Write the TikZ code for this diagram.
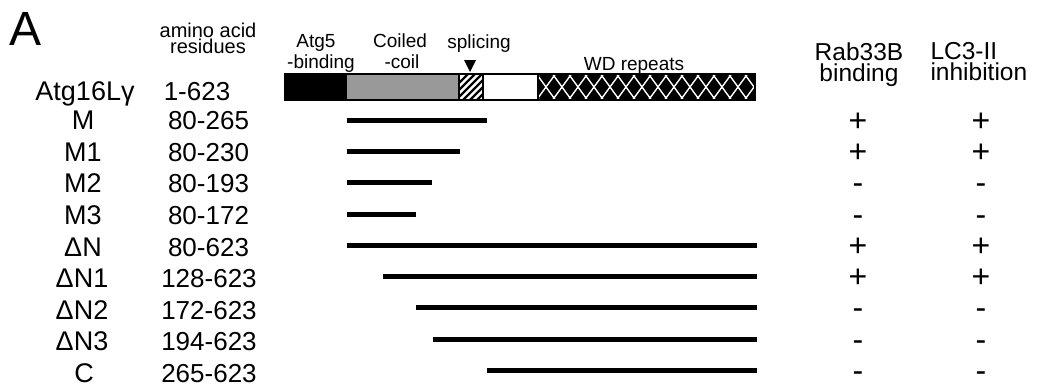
\documentclass[tikz,border=0pt]{standalone}
\usepackage{fontspec}
\setmainfont{Liberation Sans}
\begin{document}
\begin{tikzpicture}[x=1pt,y=-1pt]
\tikzset{lbl/.style={font=\fontsize{27}{27}\selectfont, anchor=base, inner sep=0},
 rsd/.style={font=\fontsize{26}{26}\selectfont, anchor=base, inner sep=0},
 sgn/.style={font=\fontsize{32}{32}\selectfont, anchor=base, inner sep=0},
 hdr/.style={font=\fontsize{24.5}{21}\selectfont, inner sep=0},
 sub/.style={font=\fontsize{20}{16.5}\selectfont, inner sep=0},
 dom/.style={font=\fontsize{19}{19}\selectfont, anchor=base, inner sep=0},
 flat/.style={text depth=0pt},
 cons/.style={line width=5pt}}

\useasboundingbox (0,0) rectangle (1037,386);

% Panel letter and column heads
\node[font=\fontsize{48}{48}\selectfont, anchor=base west, inner sep=0] (panel) at (9,45) {A};
\node[sub, align=center, anchor=north] (aa) at (208,22.6) {amino acid\\residues};
\node[hdr, align=center, anchor=north] (rab) at (859,42.3) {Rab33B\\binding};
\node[hdr, align=left, anchor=north west] (lc) at (930.3,42.3) {LC3-II\\inhibition};

% Domain labels
\node[dom, flat] (atg5a) at (316,47) {Atg5};
\node[dom] (atg5b) at (321,68) {-binding};
\node[dom, flat] (cc1) at (400,47) {Coiled};
\node[dom] (cc2) at (402,68) {-coil};
\node[dom] (spl) at (479,48) {splicing};
\node[dom] (wd) at (634,70) {WD repeats};
\fill (464,60) -- (476,60) -- (470,72) -- cycle;

% Full length protein
\fill[black] (285,74) rectangle (347,100);
\fill[black!40] (347,74) rectangle (459,100);
\begin{scope}
\clip (459,74) rectangle (483,100);
\fill[white] (459,74) rectangle (483,100);
\foreach \k in {0,...,8}
  \draw[line width=2.4pt] ({440+\k*7},102) -- ({440+\k*7+28},74);
\end{scope}
\fill[white] (483,74) rectangle (538,100);
\begin{scope}
\clip (538,74) rectangle (755,100);
\fill[black] (538,74) rectangle (755,100);
\foreach \k in {-1,...,14} {
  \draw[white, line width=1.4pt] ({538+16*\k-4},70.5) -- ({538+16*\k+20},103.5);
  \draw[white, line width=1.4pt] ({538+16*\k+20},70.5) -- ({538+16*\k-4},103.5);
}
\end{scope}
\draw[line width=2pt] (285,74) rectangle (755,100);
\draw[line width=1.2pt] (459,74) -- (459,100);
\draw[line width=1.2pt] (483,74) -- (483,100);
\draw[line width=1.6pt] (538,74) -- (538,100);

% Construct names
\node[lbl] (full) at (85,100) {Atg16Lγ};
\node[lbl] (m) at (83,129.5) {M};
\node[lbl] (m1) at (83,161) {M1};
\node[lbl] (m2) at (83,192.5) {M2};
\node[lbl] (m3) at (83,224) {M3};
\node[lbl] (dn) at (83,256) {ΔN};
\node[lbl] (dn1) at (82,287.5) {ΔN1};
\node[lbl] (dn2) at (82,319) {ΔN2};
\node[lbl] (dn3) at (82,350.5) {ΔN3};
\node[lbl] (c) at (84,382) {C};

% Residue ranges
\node[rsd] (rfull) at (197,100) {1-623};
\node[rsd] (rm) at (208.5,129.5) {80-265};
\node[rsd] (rm1) at (208.5,161) {80-230};
\node[rsd] (rm2) at (208.5,192.5) {80-193};
\node[rsd] (rm3) at (208.5,224) {80-172};
\node[rsd] (rdn) at (208.5,256) {80-623};
\node[rsd] (rdn1) at (209,287.5) {128-623};
\node[rsd] (rdn2) at (209,319) {172-623};
\node[rsd] (rdn3) at (209,350.5) {194-623};
\node[rsd] (rc) at (209,382) {265-623};

% Constructs
\draw[cons] (346.5,120) -- (486.5,120);
\draw[cons] (346.5,151) -- (460,151);
\draw[cons] (346.5,182) -- (432,182);
\draw[cons] (346.5,214) -- (416,214);
\draw[cons] (346.5,245) -- (757,245);
\draw[cons] (383,276) -- (757,276);
\draw[cons] (416,307) -- (757,307);
\draw[cons] (433,339) -- (757,339);
\draw[cons] (486.5,370) -- (757,370);

% Rab33B binding
\node[sgn] (b1) at (858,131) {+};
\node[sgn] (b2) at (858,162) {+};
\node[sgn] (b3) at (858,193) {-};
\node[sgn] (b4) at (858,225) {-};
\node[sgn] (b5) at (858,256) {+};
\node[sgn] (b6) at (858,287) {+};
\node[sgn] (b7) at (858,318) {-};
\node[sgn] (b8) at (858,350) {-};
\node[sgn] (b9) at (858,381) {-};

% LC3-II inhibition
\node[sgn] (i1) at (981,131) {+};
\node[sgn] (i2) at (981,162) {+};
\node[sgn] (i3) at (981,193) {-};
\node[sgn] (i4) at (981,225) {-};
\node[sgn] (i5) at (981,256) {+};
\node[sgn] (i6) at (981,287) {+};
\node[sgn] (i7) at (981,318) {-};
\node[sgn] (i8) at (981,350) {-};
\node[sgn] (i9) at (981,381) {-};

\end{tikzpicture}
\end{document}
